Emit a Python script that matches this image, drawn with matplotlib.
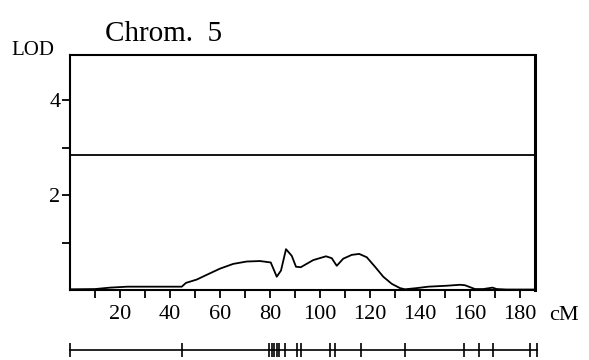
import matplotlib
matplotlib.use("Agg")
import matplotlib.pyplot as plt
import numpy as np

plt.rcParams["font.family"] = ["Liberation Serif", "DejaVu Serif"]

# LOD profile along chromosome 5 (cM, LOD)
pos_cm = [0, 10, 16, 23, 44, 44.7, 46.4, 50.7, 54.7, 60, 65.3, 70.7, 76, 80.3,
          82.7, 84.4, 86.4, 88.7, 90.4, 92.3, 97.3, 102.4, 104.7, 106.7, 109.3,
          112.7, 115.7, 118.7, 122, 125.3, 128.7, 132, 134, 138.7, 143.3, 150.7,
          156, 158, 162, 165.3, 169, 170.7, 174.7, 186]
lod = [0.015, 0.02, 0.05, 0.07, 0.07, 0.07, 0.15, 0.22, 0.32, 0.45, 0.55, 0.6,
       0.61, 0.58, 0.28, 0.41, 0.86, 0.72, 0.49, 0.48, 0.63, 0.71, 0.67, 0.51,
       0.66, 0.74, 0.76, 0.69, 0.49, 0.28, 0.13, 0.04, 0.015, 0.04, 0.07, 0.09,
       0.11, 0.10, 0.02, 0.02, 0.05, 0.02, 0.01, 0.01]
threshold = 2.84

# marker positions (cM)
markers = [0, 44.9, 79.6, 80.7, 81.7, 82.7, 83.7, 86.1, 90.7, 92.3, 104.1,
           105.9, 116.4, 133.9, 157.7, 163.7, 169.3, 184, 186.9]

x_ticks = list(range(10, 181, 10))
x_labels = [str(t) if t % 20 == 0 else "" for t in x_ticks]
y_ticks = [1, 2, 3, 4]
y_labels = ["", "2", "", "4"]

fig = plt.figure(figsize=(5.89, 3.6), dpi=100)
ax = fig.add_axes([70 / 589, 1 - 290 / 360, 465 / 589, 235 / 360])
ax.plot(pos_cm, lod, color="black", linewidth=1.3)
ax.axhline(threshold, color="black", linewidth=1.3)
ax.set_xlim(0, 186)
ax.set_ylim(0, 4.95)
ax.set_xticks(x_ticks)
ax.set_xticklabels(x_labels)
ax.set_yticks(y_ticks)
ax.set_yticklabels(y_labels)
ax.tick_params(direction="out", length=6, width=1.3, labelsize=16)
ax.tick_params(axis="x", pad=5)
ax.tick_params(axis="y", pad=1)
for s in ax.spines.values():
    s.set_linewidth(1.5)
ax.spines["right"].set_linewidth(2.2)

fig.text(105 / 589, 1 - 41 / 360, "Chrom.  5", fontsize=21, ha="left", va="baseline")
fig.text(11 / 589, 1 - 55 / 360, "LOD", fontsize=15, ha="left", va="baseline")
fig.text(549 / 589, 1 - 320 / 360, "cM", fontsize=16, ha="left", va="baseline")

# marker map beneath the axis
mx = fig.add_axes([70 / 589, 1 - 357 / 360, 465 / 589, 14 / 360])
mx.set_xlim(0, 186)
mx.set_ylim(-1, 1)
mx.plot([markers[0], markers[-1]], [0, 0], color="black", linewidth=1.2,
        clip_on=False)
mx.vlines(markers, -1, 1, color="black", linewidth=1.2, clip_on=False)
mx.axis("off")

fig.savefig("out.png", dpi=100)
